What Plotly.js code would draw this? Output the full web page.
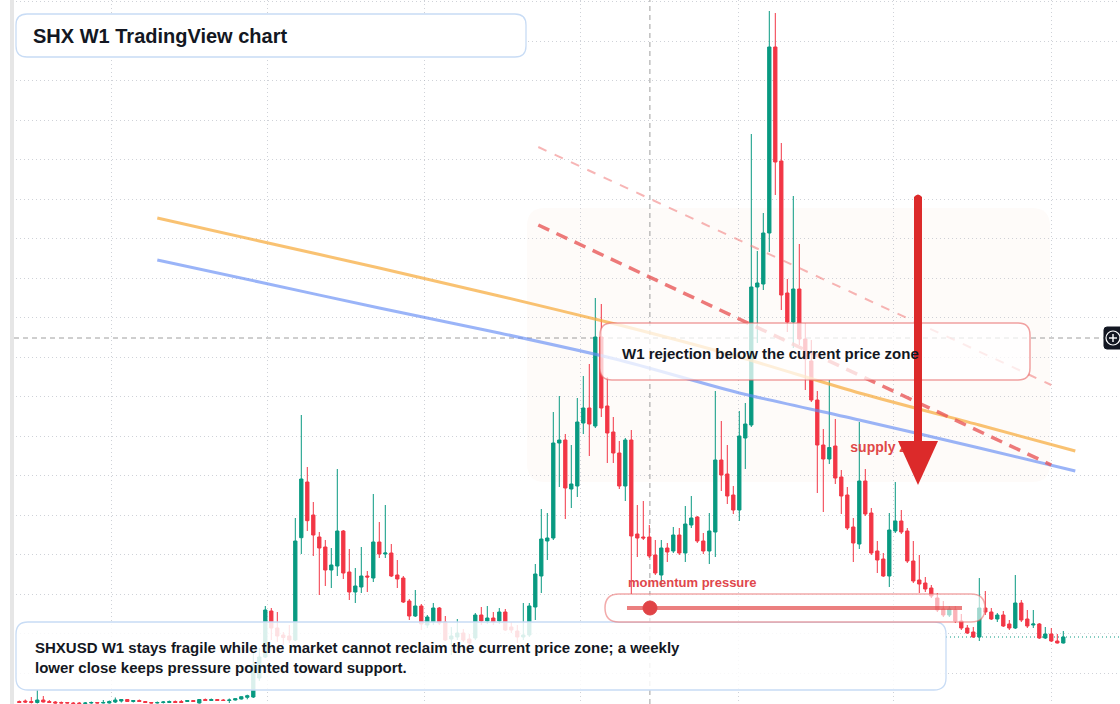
<!DOCTYPE html>
<html>
<head>
<meta charset="utf-8">
<script src="https://cdn.plot.ly/plotly-3.0.1.min.js"></script>
<style>html,body{margin:0;padding:0;background:#fff;}#chart{width:1120px;height:704px;}</style>
</head>
<body>
<div id="chart"></div>
<script>
// ---- Weekly SHXUSD candles (USD), oldest first ----
const open = [0.00025,0.0003,0.00025,0.00015,0.0004,0.00025,0.0002,0.00015,0.00015,0.0001,
0.0001,0.00005,0.0001,0.00015,0.0001,0.0001,0.0002,0.0003,0.00045,0.00025,
0.00035,0.00025,0.00015,0.0001,0.00015,0.00015,0.00025,0.00025,0.00025,0.00035,
0.0001,0.00045,0.00035,0.00045,0.0004,0.00035,0.0004,0.0005,0.00067,0.0007,
0.0026,
0.0047,0.0093,0.0076,0.0069,0.0068,0.0064,0.01663,0.0222,0.0189,0.0167,
0.0157,0.0134,0.0138,0.0173,0.0132,0.0112,0.0117,0.0128,0.0126,0.0162,
0.015,0.0151,0.0129,0.0126,0.0103,0.0088,0.0098,0.0079,0.0082,0.0096,
0.0082,0.0065,0.0067,0.0071,0.0065,0.0066,0.0089,0.0083,0.0086,0.0083,
0.0092,0.0077,0.0073,0.0067,0.0069,0.0097,0.0128,0.0163,0.0166,0.0261,
0.0264,0.0215,0.0218,0.0281,0.0296,0.0278,0.0367,0.0298,0.0272,0.0251,
0.0218,0.0264,0.017,0.0167,0.0167,0.0149,0.0129,0.0156,0.0153,0.0169,
0.0151,0.0179,0.0187,0.0163,0.0153,0.0172,0.0244,0.023,0.0209,0.0194,
0.0266,0.0279,0.0417,0.042,0.0471,0.0657,0.0543,0.0411,0.0382,0.0415,
0.0365,0.0343,0.0304,0.0259,0.0245,0.0258,0.0227,0.0209,0.0177,0.016,
0.0223,0.0191,0.0153,0.0145,0.0128,0.0173,0.0183,0.0173,0.0143,0.0124,
0.0121,0.0116,0.0106,0.0095,0.0089,0.0094,0.0083,0.0076,0.0072,0.0067,
0.0096,0.0092,0.0085,0.0089,0.008,0.0076,0.0101,0.0085,0.0079,0.008,0.0066,0.007,0.0063,0.0061];

const high = [0.00035,0.00045,0.0007,0.0014,0.0008,0.0004,0.0003,0.00025,0.0002,0.0002,
0.0002,0.0002,0.00025,0.0002,0.0004,0.00035,0.00065,0.0005,0.0005,0.0004,
0.00045,0.0003,0.0002,0.00025,0.0003,0.00035,0.00035,0.0004,0.0004,0.0004,
0.0005,0.00055,0.00055,0.0005,0.0005,0.00055,0.00055,0.00075,0.00093,0.0052,
0.0056,
0.0098,0.0096,0.0092,0.0072,0.0079,0.0186,0.0289,0.0237,0.0202,0.0172,
0.0164,0.0156,0.0235,0.0174,0.0155,0.0136,0.0157,0.0133,0.021,0.0182,
0.0199,0.016,0.0144,0.0128,0.0105,0.0114,0.01,0.0089,0.0101,0.0097,
0.0088,0.0077,0.0085,0.0075,0.007,0.0091,0.0097,0.0098,0.0092,0.0096,
0.0095,0.0082,0.0079,0.0101,0.0101,0.014,0.0195,0.0191,0.0292,0.0308,
0.027,0.0259,0.0306,0.0328,0.034,0.0406,0.04,0.0327,0.0287,0.0263,
0.0266,0.0274,0.0199,0.0203,0.0179,0.0164,0.0164,0.0161,0.0177,0.0176,
0.0198,0.0208,0.0188,0.0171,0.0191,0.0313,0.0283,0.0259,0.0218,0.0293,
0.0301,0.057,0.0453,0.0491,0.0693,0.0691,0.0561,0.0425,0.0508,0.046,
0.0381,0.0364,0.0313,0.0275,0.0324,0.0285,0.0234,0.0217,0.0186,0.0282,
0.0235,0.0196,0.0163,0.0151,0.0191,0.0222,0.0194,0.0176,0.0163,0.0149,
0.0127,0.0119,0.0111,0.0103,0.0098,0.0098,0.009,0.0079,0.0077,0.0126,
0.0113,0.0096,0.0091,0.0093,0.0084,0.0129,0.0104,0.0094,0.0094,0.0081,0.0077,0.0076,0.007,0.0073];

const low = [0.0001,0.0001,0.00005,0.00005,0.00015,0.0001,0.00005,0.00005,0.00005,0.00002,
0.00001,0.00001,0.00002,0.00005,0.00005,0.00005,0.0001,0.00015,0.0002,0.00015,
0.0002,0.0001,0.00005,0.00005,0.00005,0.0001,0.0001,0.00012,0.0002,0.0002,
0.00005,0.0003,0.0003,0.0003,0.0003,0.0001,0.00035,0.00045,0.00047,0.0006,
0.0023,
0.0046,0.0064,0.0062,0.0059,0.0061,0.0063,0.015,0.0173,0.0148,0.0109,
0.0118,0.0116,0.0128,0.0125,0.0104,0.0101,0.0111,0.0112,0.0122,0.0146,
0.0146,0.0127,0.0116,0.0101,0.0084,0.0087,0.0074,0.0076,0.0079,0.0079,
0.0063,0.0049,0.0064,0.0062,0.0059,0.0064,0.0079,0.008,0.0079,0.008,
0.0073,0.0071,0.0061,0.0064,0.0067,0.0084,0.0111,0.0144,0.0164,0.0217,
0.0185,0.0196,0.0207,0.027,0.0248,0.0276,0.0287,0.0241,0.0241,0.0215,
0.0203,0.011,0.0147,0.0164,0.0146,0.0129,0.0117,0.0142,0.0151,0.0149,
0.0142,0.0176,0.0161,0.015,0.014,0.0147,0.0213,0.02,0.019,0.0183,
0.0235,0.0277,0.0361,0.0414,0.0452,0.0509,0.0394,0.0372,0.0356,0.0359,
0.0314,0.0302,0.0211,0.0192,0.024,0.022,0.019,0.0174,0.0142,0.0155,
0.0188,0.0149,0.0131,0.0127,0.0117,0.0171,0.017,0.0141,0.0121,0.0111,
0.0112,0.0106,0.0092,0.0087,0.0087,0.0081,0.0074,0.007,0.0066,0.0063,
0.0089,0.0084,0.0082,0.0077,0.0074,0.0075,0.0082,0.0076,0.0076,0.0065,0.0065,0.0062,0.00605,0.00605];

const close = [0.00015,0.0002,0.00015,0.0004,0.0002,0.00015,0.0001,0.0001,0.0001,0.00005,
0.00005,0.0001,0.00015,0.0001,0.00015,0.00025,0.0004,0.00045,0.00025,0.00035,
0.00025,0.00015,0.0001,0.00015,0.0002,0.00025,0.00015,0.00015,0.00035,0.00025,
0.00045,0.00035,0.00045,0.00035,0.00035,0.0004,0.00053,0.00073,0.00083,0.0039,
0.0047,
0.0094,0.0076,0.0068,0.00665,0.0064,0.0163,0.0225,0.01833,0.0169,0.0156,
0.0134,0.0139,0.0173,0.0131,0.0112,0.0118,0.0128,0.0127,0.0162,0.015,
0.0151,0.0128,0.0125,0.0102,0.0088,0.0098,0.008,0.0087,0.0096,0.0081,
0.0064,0.0068,0.0071,0.0064,0.0061,0.0089,0.0083,0.0086,0.0082,0.0092,
0.0074,0.0074,0.0067,0.0069,0.0098,0.013,0.0165,0.0166,0.0261,0.0264,
0.0216,0.022,0.0282,0.0296,0.028,0.0367,0.0296,0.0271,0.0251,0.0218,
0.0264,0.0168,0.0166,0.0166,0.0148,0.0131,0.0156,0.0152,0.0169,0.0151,
0.018,0.0186,0.0163,0.0153,0.0173,0.0244,0.0229,0.0208,0.0194,0.0268,
0.028,0.0417,0.0421,0.0471,0.0657,0.0542,0.0409,0.0382,0.0415,0.0365,
0.0345,0.0304,0.0259,0.0245,0.02565,0.0226,0.0208,0.0176,0.0161,0.0223,
0.019,0.0151,0.0144,0.0128,0.0174,0.0183,0.0172,0.0143,0.0123,0.012,
0.0115,0.0108,0.0094,0.0089,0.0095,0.0083,0.0076,0.0071,0.0067,0.0096,
0.0092,0.0085,0.0089,0.0078,0.0076,0.0101,0.0084,0.0078,0.008,0.0066,0.007,0.0063,0.0061,0.0067];

// Moving averages (sampled at week index)
const maWeeks  = [23, 40, 60, 80, 100, 120, 140, 160, 176];
const maOrange = [0.0486, 0.0463, 0.0436, 0.0408, 0.0379, 0.0347, 0.0311, 0.0279, 0.0253];
const maBlue   = [0.0444, 0.0422, 0.0396, 0.0371, 0.0344, 0.0311, 0.0284, 0.0256, 0.0233];

// Descending trend lines
const trendWeeks = [86.5, 172];
const trendUpper = [0.0557, 0.0319];
const trendLower = [0.0479, 0.0239];

// Texts
const titleText = "SHX W1 TradingView chart";
const noteText = "W1 rejection below the current price zone";
const summaryLines = ["SHXUSD W1 stays fragile while the market cannot reclaim the current price zone; a weekly",
                      "lower close keeps pressure pointed toward support."];
const momentumLabel = "momentum pressure";
const zoneLabel = "supply zone";
const zoneLabelWeek = 138.5, zoneLabelPrice = 0.0256;
const crossWeek = 105.1, crossPrice = 0.0366;

// ---- helpers ----
const W = 1120, H = 704;
const startMs = Date.UTC(2022, 8, 15);
function weekDate(i) {
  return new Date(startMs + i * 7 * 86400000).toISOString().slice(0, 19).replace('T', ' ');
}
const dates = open.map((_, i) => weekDate(i));
const px = x => (x / W).toFixed(5);
const py = y => (1 - y / H).toFixed(5);
function rr(x0, y0, x1, y1, r) {
  return `M${px(x0 + r)},${py(y0)} L${px(x1 - r)},${py(y0)} Q${px(x1)},${py(y0)} ${px(x1)},${py(y0 + r)} ` +
         `L${px(x1)},${py(y1 - r)} Q${px(x1)},${py(y1)} ${px(x1 - r)},${py(y1)} L${px(x0 + r)},${py(y1)} ` +
         `Q${px(x0)},${py(y1)} ${px(x0)},${py(y1 - r)} L${px(x0)},${py(y0 + r)} Q${px(x0)},${py(y0)} ${px(x0 + r)},${py(y0)} Z`;
}
function box(x0, y0, x1, y1, r, fill, line, lw, layer) {
  return {type: 'path', xref: 'paper', yref: 'paper', path: rr(x0, y0, x1, y1, r),
          fillcolor: fill, line: {color: line, width: lw}, layer: layer || 'above'};
}

const GREEN = '#089981', RED = '#f23645';
const FONT = 'Liberation Sans, Arial, sans-serif';
const GRID = 'rgba(175,180,190,0.6)';

const traces = [
  {
    type: 'candlestick', x: dates, open: open, high: high, low: low, close: close,
    increasing: {line: {color: GREEN, width: 1}, fillcolor: GREEN},
    decreasing: {line: {color: RED, width: 1}, fillcolor: RED},
    whiskerwidth: 0, hoverinfo: 'skip', showlegend: false
  },
  {
    type: 'scatter', mode: 'lines', x: maWeeks.map(weekDate), y: maOrange,
    line: {color: 'rgba(246,170,60,0.72)', width: 3, shape: 'spline', smoothing: 0.6},
    hoverinfo: 'skip', showlegend: false
  },
  {
    type: 'scatter', mode: 'lines', x: maWeeks.map(weekDate), y: maBlue,
    line: {color: 'rgba(100,140,245,0.65)', width: 3, shape: 'spline', smoothing: 0.6},
    hoverinfo: 'skip', showlegend: false
  },
  {
    type: 'scatter', mode: 'lines', x: trendWeeks.map(weekDate), y: trendUpper,
    line: {color: 'rgba(240,120,120,0.55)', width: 2, dash: '9px,9px'},
    hoverinfo: 'skip', showlegend: false
  },
  {
    type: 'scatter', mode: 'lines', x: trendWeeks.map(weekDate), y: trendLower,
    line: {color: 'rgba(232,85,85,0.78)', width: 3.5, dash: '12px,8px'},
    hoverinfo: 'skip', showlegend: false
  },
  {
    type: 'scatter', mode: 'text', x: [weekDate(zoneLabelWeek)], y: [zoneLabelPrice],
    text: ['<b>' + zoneLabel + '</b>'], textposition: 'middle right',
    textfont: {family: FONT, size: 14, color: '#e04848'},
    hoverinfo: 'skip', showlegend: false
  }
];

const shapes = [
  // supply zone
  box(527, 208, 1050, 482, 18, 'rgba(245,225,205,0.12)', 'rgba(0,0,0,0)', 0, 'below'),
  // crosshair
  {type: 'line', xref: 'x', yref: 'paper', x0: weekDate(crossWeek), x1: weekDate(crossWeek), y0: 0, y1: 1,
   line: {color: 'rgba(125,125,125,0.75)', width: 1, dash: '5px,4px'}, layer: 'between'},
  {type: 'line', xref: 'paper', yref: 'y', x0: 14 / W, x1: 1104 / W, y0: crossPrice, y1: crossPrice,
   line: {color: 'rgba(125,125,125,0.75)', width: 1, dash: '5px,4px'}, layer: 'between'},
  // last price line
  {type: 'line', xref: 'paper', yref: 'y', x0: 946 / W, x1: 1, y0: close[close.length - 1], y1: close[close.length - 1],
   line: {color: GREEN, width: 1, dash: '1px,3px'}, layer: 'between'},
  // boxes
  box(16, 14, 526, 57, 11, '#ffffff', 'rgba(200,220,245,1)', 1.3),
  box(16, 622, 946, 690, 12, 'rgba(255,255,255,0.85)', 'rgba(200,220,245,1)', 1.3),
  box(600, 323, 1030, 380, 12, 'rgba(255,255,255,0.74)', 'rgba(232,100,100,0.6)', 1.5),
  box(605, 594, 985, 622, 14, 'rgba(255,255,255,0.62)', 'rgba(232,100,100,0.55)', 1.5),
  {type: 'line', xref: 'paper', yref: 'paper', x0: 627 / W, x1: 962 / W, y0: 1 - 608 / H, y1: 1 - 608 / H,
   line: {color: 'rgba(226,72,72,0.7)', width: 4}, layer: 'above'},
  {type: 'circle', xref: 'paper', yref: 'paper', x0: 643 / W, x1: 657 / W, y0: 1 - 615 / H, y1: 1 - 601 / H,
   fillcolor: '#e04346', line: {color: '#e04346', width: 1}, layer: 'above'},
  // big arrow
  {type: 'path', xref: 'paper', yref: 'paper',
   path: `M${px(914)},${py(197)} Q${px(918)},${py(192)} ${px(922)},${py(197)} L${px(922)},${py(443)} L${px(914)},${py(443)} Z`,
   fillcolor: '#dc2a2a', line: {width: 0}, layer: 'above'},
  {type: 'path', xref: 'paper', yref: 'paper',
   path: `M${px(898)},${py(441)} L${px(938)},${py(441)} L${px(918)},${py(485)} Z`,
   fillcolor: '#dc2a2a', line: {width: 0}, layer: 'above'},
  // crosshair button
  box(1104, 327, 1124, 349, 3, '#131722', '#131722', 1),
  {type: 'circle', xref: 'paper', yref: 'paper', x0: 1106 / W, x1: 1120 / W, y0: 1 - 345 / H, y1: 1 - 331 / H,
   fillcolor: 'rgba(0,0,0,0)', line: {color: '#ffffff', width: 1.2}, layer: 'above'},
  {type: 'line', xref: 'paper', yref: 'paper', x0: 1109 / W, x1: 1117 / W, y0: 1 - 338 / H, y1: 1 - 338 / H,
   line: {color: '#ffffff', width: 1.4}, layer: 'above'},
  {type: 'line', xref: 'paper', yref: 'paper', x0: 1113 / W, x1: 1113 / W, y0: 1 - 334 / H, y1: 1 - 342 / H,
   line: {color: '#ffffff', width: 1.4}, layer: 'above'},
  // left edge
  {type: 'rect', xref: 'paper', yref: 'paper', x0: 0, x1: 10 / W, y0: 0, y1: 1, fillcolor: '#ffffff', line: {width: 0}, layer: 'above'},
  {type: 'rect', xref: 'paper', yref: 'paper', x0: 10 / W, x1: 14 / W, y0: 0, y1: 1, fillcolor: '#e6e6e6', line: {width: 0}, layer: 'above'}
];

const annotations = [
  {xref: 'paper', yref: 'paper', x: 31 / W, y: 1 - 36 / H, xanchor: 'left', yanchor: 'middle', showarrow: false,
   text: '<b>' + titleText + '</b>', font: {family: FONT, size: 20, color: '#131722'}},
  {xref: 'paper', yref: 'paper', x: 620 / W, y: 1 - 353 / H, xanchor: 'left', yanchor: 'middle', showarrow: false,
   text: '<b>' + noteText + '</b>', font: {family: FONT, size: 15, color: '#131722'}},
  {xref: 'paper', yref: 'paper', x: 33 / W, y: 1 - 657 / H, xanchor: 'left', yanchor: 'middle', showarrow: false, align: 'left',
   text: '<b>' + summaryLines.join('<br>') + '</b>', font: {family: FONT, size: 15, color: '#131722'}},
  {xref: 'paper', yref: 'paper', x: 626 / W, y: 1 - 582 / H, xanchor: 'left', yanchor: 'middle', showarrow: false,
   text: '<b>' + momentumLabel + '</b>', font: {family: FONT, size: 13, color: '#e0474c'}}
];

const layout = {
  width: W, height: H,
  margin: {l: 0, r: 0, t: 0, b: 0, pad: 0},
  paper_bgcolor: '#ffffff', plot_bgcolor: '#ffffff',
  showlegend: false, hovermode: false, dragmode: false,
  boxgap: 0.22,
  xaxis: {
    type: 'date', range: [weekDate(-3.217), weekDate(183.45)],
    rangeslider: {visible: false}, showticklabels: false, ticks: '',
    showgrid: true, gridcolor: GRID, griddash: '1px,3px', gridwidth: 1,
    dtick: 'M6', tick0: '2023-01-01', zeroline: false, showline: false, fixedrange: true
  },
  yaxis: {
    range: [0, 0.0704], showticklabels: false, ticks: '',
    showgrid: true, gridcolor: GRID, griddash: '1px,3px', gridwidth: 1,
    tick0: 0.0031, dtick: 0.00395, zeroline: false, showline: false, fixedrange: true
  },
  shapes: shapes,
  annotations: annotations
};

Plotly.newPlot('chart', traces, layout, {displayModeBar: false, staticPlot: true});
</script>
</body>
</html>
